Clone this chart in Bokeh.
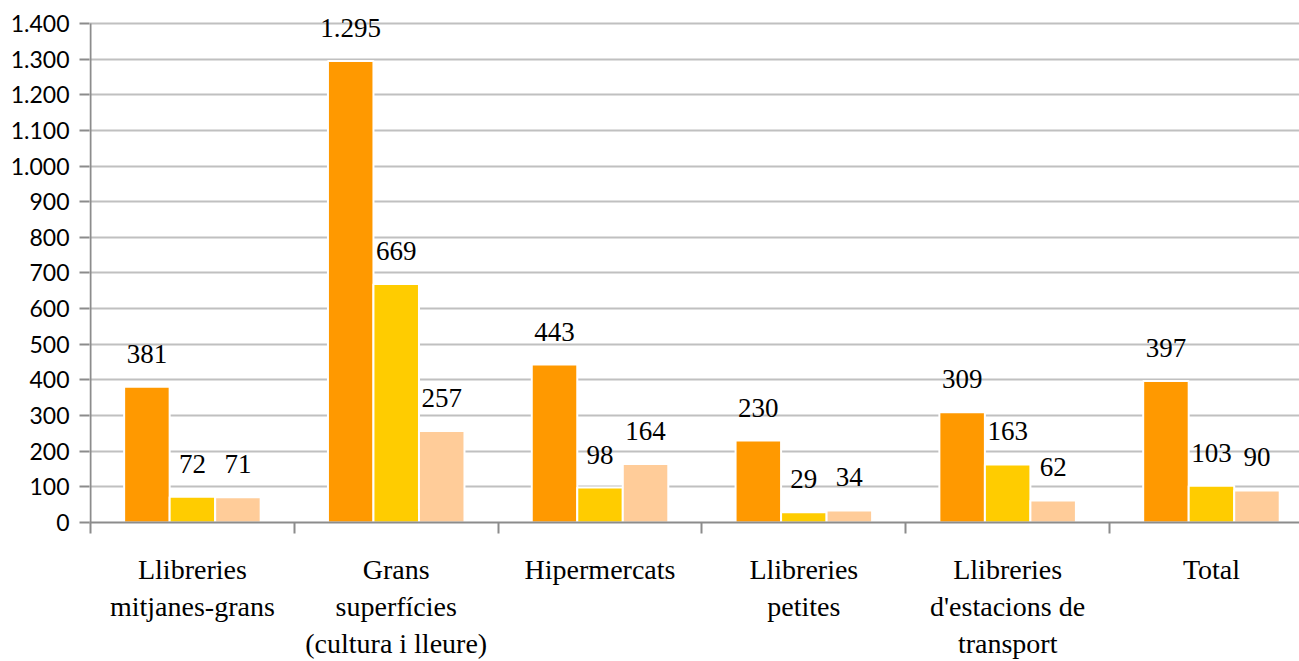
from bokeh.plotting import figure
from bokeh.models import ColumnDataSource, FixedTicker, LabelSet
from bokeh.embed import file_html
from bokeh.resources import INLINE

categories = ["Llibreries\nmitjanes-grans", "Grans\nsuperfícies\n(cultura i lleure)", "Hipermercats",
              "Llibreries\npetites", "Llibreries\nd'estacions de\ntransport", "Total"]
serie_a = [381, 1295, 443, 230, 309, 397]
serie_b = [72, 669, 98, 29, 163, 103]
serie_c = [71, 257, 164, 34, 62, 90]
y_ticks = list(range(0, 1500, 100))
y_tick_labels = ["0", "100", "200", "300", "400", "500", "600", "700", "800", "900",
                 "1.000", "1.100", "1.200", "1.300", "1.400"]
y_max = 1400

colors = ["#FF9900", "#FFCC00", "#FFCC99"]
offsets = [-0.2233, 0.0, 0.2233]
bar_w = 0.2233
axis_color = "#8C8C8C"

def fmt(v):
    s = str(v)
    if v >= 1000:
        s = s[:-3] + "." + s[-3:]
    return s

px_x = 1 / 203.8
p = figure(width=1299, height=661, output_backend="svg", toolbar_location=None,
           x_range=(-px_x, 5.932), y_range=(0, 1464.4),
           min_border_left=89, min_border_right=0, min_border_top=0, min_border_bottom=138)
p.outline_line_color = None
p.background_fill_color = "white"
p.border_fill_color = "white"

p.ygrid.grid_line_color = "#C0C0C0"
p.ygrid.grid_line_width = 2
p.xgrid.visible = False

centers = [i + 0.5 for i in range(len(categories))]
for series, off, col in zip([serie_a, serie_b, serie_c], offsets, colors):
    src = ColumnDataSource(dict(x=[c + off for c in centers], top=series,
                                label=[fmt(v) for v in series]))
    p.vbar(x="x", top="top", bottom=0, width=bar_w, source=src,
           fill_color=col, line_color="white", line_width=2)
    p.add_layout(LabelSet(x="x", y="top", text="label", source=src,
                          text_font="Liberation Serif", text_font_size="27px",
                          text_align="center", text_baseline="middle",
                          y_offset=33, text_color="black"))

# y axis line only up to the top tick
p.segment(x0=[0], y0=[0], x1=[0], y1=[y_max], line_color=axis_color, line_width=2)

# y axis
p.yaxis.ticker = FixedTicker(ticks=y_ticks)
p.yaxis.major_label_overrides = {t: l for t, l in zip(y_ticks, y_tick_labels)}
p.yaxis.major_label_text_font = "Lato"
p.yaxis.major_label_text_font_size = "23px"
p.yaxis.major_label_text_color = "black"
p.yaxis.axis_line_color = None
p.yaxis.major_tick_line_color = axis_color
p.yaxis.major_tick_line_width = 2
p.yaxis.major_tick_out = 10
p.yaxis.major_tick_in = 0
p.yaxis.minor_tick_line_color = None
p.yaxis.major_label_standoff = 10

# x axis
p.xaxis.ticker = FixedTicker(ticks=centers, minor_ticks=list(range(0, 7)))
p.xaxis.major_label_overrides = {c: l for c, l in zip(centers, categories)}
p.xaxis.major_label_text_font = "Liberation Serif"
p.xaxis.major_label_text_font_size = "28px"
p.xaxis.major_label_text_line_height = 1.2
p.xaxis.major_label_text_color = "black"
p.xaxis.major_tick_out = 0
p.xaxis.major_tick_in = 0
p.xaxis.major_tick_line_color = None
p.xaxis.minor_tick_out = 11
p.xaxis.minor_tick_in = 0
p.xaxis.minor_tick_line_color = axis_color
p.xaxis.minor_tick_line_width = 2
p.xaxis.axis_line_color = axis_color
p.xaxis.axis_line_width = 2
p.xaxis.major_label_standoff = 20

open("out.html", "w").write(file_html(p, INLINE))
